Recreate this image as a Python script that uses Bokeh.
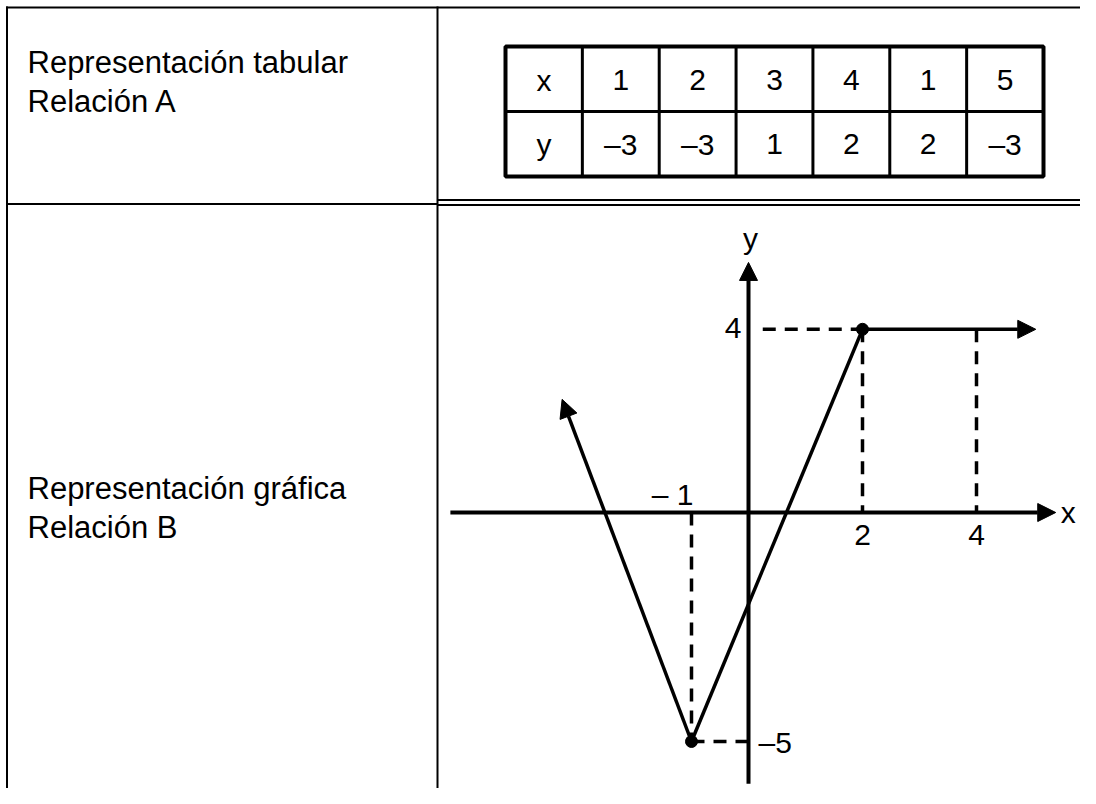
from bokeh.plotting import figure
from bokeh.models import Range1d, Arrow, NormalHead
from bokeh.core.properties import value
from bokeh.embed import file_html
from bokeh.resources import INLINE

# ---------------- data ----------------
row_labels = ["x", "y"]
table_x = [1, 2, 3, 4, 1, 5]
table_y = [-3, -3, 1, 2, 2, -3]
cell_a_lines = ["Representación tabular", "Relación A"]
cell_b_lines = ["Representación gráfica", "Relación B"]

vertex_x = [-1, 2]
vertex_y = [-5, 4]
left_ray_end_x, left_ray_end_y = -3.27, 2.47
right_ray_end_x, right_ray_end_y = 5.04, 4
x_tick_vals = [2, 4]
neg_tick_val = -1
y_tick_vals = [4, -5]
axis_x_min, axis_x_max = -5.23, 5.39
axis_y_min, axis_y_max = -5.92, 5.46


def fmt(v):
    return "–" + str(abs(v)) if v < 0 else str(v)


FONT = value("Liberation Sans")
W, H = 1080, 788

p = figure(width=W, height=H, x_range=Range1d(0, W), y_range=Range1d(H, 0),
           output_backend="svg", toolbar_location=None, min_border=0,
           x_axis_type=None, y_axis_type=None)
p.outline_line_color = None
p.background_fill_color = "white"
p.border_fill_color = "white"

# ---------------- outer frame (picture pixel coords) ----------------
DIV_X = 437
p.segment(x0=[6.5, 5.5, DIV_X, 5.5, DIV_X, DIV_X], y0=[6, 7, 6, 203.5, 199.5, 204.5],
          x1=[6.5, W, DIV_X, DIV_X, W, W], y1=[H, 7, H, 203.5, 199.5, 204.5],
          line_color="black", line_width=2)

# left column texts
LEFT_X = 27
p.text(x=[LEFT_X, LEFT_X], y=[62, 101], text=cell_a_lines, text_font=FONT,
       text_font_size="31px", text_baseline="middle", text_color="black")
p.text(x=[LEFT_X, LEFT_X], y=[488, 527], text=cell_b_lines, text_font=FONT,
       text_font_size="31px", text_baseline="middle", text_color="black")

# ---------------- inner table ----------------
T_L, T_R, T_T, T_M, T_B = 505, 1043, 46, 111, 176
ncol = len(table_x) + 1
cw = (T_R - T_L) / ncol
col_lines = [T_L + i * cw for i in range(1, ncol)]
p.segment(x0=col_lines, y0=[T_T] * len(col_lines), x1=col_lines, y1=[T_B] * len(col_lines),
          line_color="black", line_width=3)
p.segment(x0=[T_L], y0=[T_M], x1=[T_R], y1=[T_M], line_color="black", line_width=3)
p.quad(left=[T_L], right=[T_R], top=[T_T], bottom=[T_B], fill_color=None,
       line_color="black", line_width=4)

cx = [T_L + (i + 0.5) * cw for i in range(ncol)]
row1 = [row_labels[0]] + [fmt(v) for v in table_x]
row2 = [row_labels[1]] + [fmt(v) for v in table_y]
p.text(x=cx, y=[(T_T + T_M) / 2 + 1] * ncol, text=row1, text_font=FONT, text_font_size="30px",
       text_align="center", text_baseline="middle", text_color="black")
p.text(x=cx, y=[(T_M + T_B) / 2] * ncol, text=row2, text_font=FONT, text_font_size="30px",
       text_align="center", text_baseline="middle", text_color="black")

# ---------------- graph (own ranges) ----------------
OX, OY, SX, SY = 748, 512, 57.0, 45.8
p.extra_x_ranges = {"gx": Range1d((0 - OX) / SX, (W - OX) / SX)}
p.extra_y_ranges = {"gy": Range1d((OY - H) / SY, (OY - 0) / SY)}
G = dict(x_range_name="gx", y_range_name="gy")


def head():
    return NormalHead(size=18, fill_color="black", line_color="black", line_width=1)


# axes
p.add_layout(Arrow(end=head(), x_start=axis_x_min, y_start=0, x_end=axis_x_max, y_end=0,
                   line_width=4, line_color="black", **G))
p.add_layout(Arrow(end=head(), x_start=0, y_start=axis_y_min, x_end=0, y_end=axis_y_max,
                   line_width=4, line_color="black", **G))

# dashed guides
DASH = "13 9"
gx0 = [0.25, vertex_x[1], x_tick_vals[1], neg_tick_val, vertex_x[0]]
gy0 = [vertex_y[1], vertex_y[1], vertex_y[1], 0, vertex_y[0]]
gx1 = [vertex_x[1], vertex_x[1], x_tick_vals[1], neg_tick_val, 0]
gy1 = [vertex_y[1], 0, 0, vertex_y[0], vertex_y[0]]
p.segment(x0=gx0, y0=gy0, x1=gx1, y1=gy1, line_color="black", line_width=3.5,
          line_dash=DASH, **G)

# relation B
p.line(x=vertex_x, y=vertex_y, line_color="black", line_width=3.5, **G)
p.add_layout(Arrow(end=head(), x_start=vertex_x[0], y_start=vertex_y[0],
                   x_end=left_ray_end_x, y_end=left_ray_end_y,
                   line_width=3.5, line_color="black", **G))
p.add_layout(Arrow(end=head(), x_start=vertex_x[1], y_start=vertex_y[1],
                   x_end=right_ray_end_x, y_end=right_ray_end_y,
                   line_width=3.5, line_color="black", **G))
p.scatter(x=vertex_x, y=vertex_y, size=12, marker="circle", fill_color="black",
          line_color="black", **G)

# labels
LBL = dict(text_font=FONT, text_font_size="30px", text_color="black")
p.text(x=x_tick_vals, y=[0, 0], text=[fmt(v) for v in x_tick_vals], text_align="center",
       text_baseline="middle", y_offset=22, **LBL, **G)
p.text(x=[neg_tick_val], y=[0], text=["– 1"], text_align="right", text_baseline="middle",
       x_offset=2, y_offset=-18, **LBL, **G)
p.text(x=[0], y=[y_tick_vals[0]], text=[fmt(y_tick_vals[0])], text_align="right",
       text_baseline="middle", x_offset=-7, y_offset=-1, **LBL, **G)
p.text(x=[0], y=[y_tick_vals[1]], text=[fmt(y_tick_vals[1])], text_align="left",
       text_baseline="middle", x_offset=10, y_offset=1, **LBL, **G)
p.text(x=[axis_x_max], y=[0], text=["x"], text_align="left", text_baseline="middle",
       x_offset=5, y_offset=0, **LBL, **G)
p.text(x=[0], y=[axis_y_max], text=["y"], text_align="center", text_baseline="bottom",
       x_offset=2, y_offset=-7, **LBL, **G)

open("out.html", "w").write(file_html(p, INLINE))
